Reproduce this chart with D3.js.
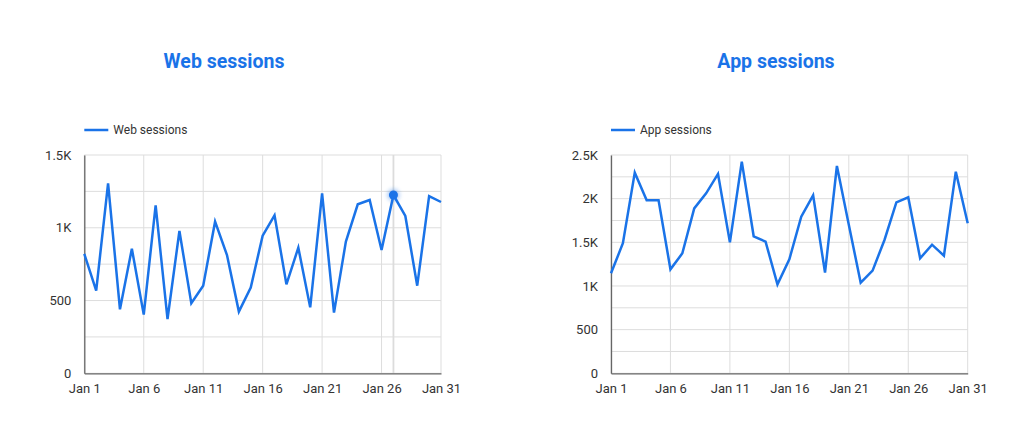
<!DOCTYPE html>
<html><head><meta charset="utf-8">
<script src="https://cdn.jsdelivr.net/npm/d3@7"></script>
<style>
body{margin:0;background:#fff;}
svg{display:block;font-family:Roboto, "Noto Sans", sans-serif;}
</style></head>
<body>
<svg id="c" width="1024" height="424"></svg>
<script>
const days = d3.range(1, 32);
const webSessions = [820,568,1305,440,856,403,1154,373,978,481,602,1042,813,424,589,946,1086,611,863,453,1237,417,905,1161,1191,847,1225,1081,602,1218,1177];
const appSessions = [1145,1489,2298,1981,1981,1191,1374,1889,2061,2283,1500,2424,1569,1508,1019,1305,1794,2038,1153,2374,1700,1038,1176,1527,1958,2015,1317,1473,1347,2309,1718];
const xTickDays = [1,6,11,16,21,26,31];
const webYTicks = [0,500,1000,1500];
const appYTicks = [0,500,1000,1500,2000,2500];
const webMinor = d3.range(0,1501,250);
const appMinor = d3.range(0,2501,250);
const highlightDay = 27;

const blue = "#1a73e8";
const svg = d3.select("#c");
const defs = svg.append("defs");
const f = defs.append("filter").attr("id","glow").attr("x","-100%").attr("y","-100%").attr("width","300%").attr("height","300%");
f.append("feGaussianBlur").attr("stdDeviation",2);

function fmt(v){ return v>=1000 ? (v/1000)+"K" : String(v); }

function chart(opt){
  const g = svg.append("g");
  const x = d3.scaleLinear().domain([1,31]).range([opt.x0, opt.x1]);
  const y = d3.scaleLinear().domain([0, opt.ymax]).range([373.3, 155]);
  g.append("text").attr("x", opt.titleX).attr("y", 68).attr("text-anchor","middle")
    .attr("font-size", 19.5).attr("font-weight", 700).attr("fill", blue).text(opt.title);
  g.append("line").attr("x1", opt.x0).attr("x2", opt.x0+24).attr("y1",130).attr("y2",130)
    .attr("stroke", blue).attr("stroke-width",2.5);
  g.append("text").attr("x", opt.x0+29).attr("y",134).attr("font-size",12).attr("fill","#333").text(opt.title);
  g.selectAll(".hg").data(opt.minor).join("line")
    .attr("x1", opt.x0).attr("x2", opt.x1).attr("y1", d=>y(d)).attr("y2", d=>y(d))
    .attr("stroke","#ddd").attr("stroke-width",1);
  g.selectAll(".vg").data(xTickDays).join("line")
    .attr("x1", d=>x(d)).attr("x2", d=>x(d)).attr("y1", y(opt.ymax)).attr("y2", y(0))
    .attr("stroke","#ddd").attr("stroke-width",1);
  if(opt.hover){
    g.append("line").attr("x1", x(highlightDay)).attr("x2", x(highlightDay)).attr("y1", y(opt.ymax)).attr("y2", y(0))
      .attr("stroke","#dcdcdc").attr("stroke-width",1.8);
  }
  const xa = g.append("g").attr("transform",`translate(0,${y(0)})`)
    .call(d3.axisBottom(x).tickValues(xTickDays).tickSize(0).tickPadding(10).tickFormat(d=>"Jan "+d));
  xa.select(".domain").attr("stroke","#666").attr("stroke-width",1.3);
  xa.selectAll("text").attr("font-size",13).attr("fill","#333").attr("font-family","Roboto, sans-serif");
  const ya = g.append("g").attr("transform",`translate(${opt.x0},0)`)
    .call(d3.axisLeft(y).tickValues(opt.yticks).tickSize(0).tickPadding(13).tickFormat(fmt));
  ya.select(".domain").attr("stroke","#666").attr("stroke-width",1.3);
  ya.selectAll("text").attr("font-size",13).attr("fill","#333").attr("font-family","Roboto, sans-serif");
  const line = d3.line().x((d,i)=>x(days[i])).y(d=>y(d));
  g.append("path").datum(opt.values).attr("d", line).attr("fill","none")
    .attr("stroke", blue).attr("stroke-width",2.5).attr("stroke-linejoin","miter");
  if(opt.hover){
    const v = opt.values[highlightDay-1];
    g.append("circle").attr("cx", x(highlightDay)).attr("cy", y(v)).attr("r",6)
      .attr("fill", blue).attr("opacity",0.4).attr("filter","url(#glow)");
    g.append("circle").attr("cx", x(highlightDay)).attr("cy", y(v)).attr("r",4.5).attr("fill", blue);
  }
}

chart({title:"Web sessions", titleX:224, x0:84.3, x1:441, ymax:1500, yticks:webYTicks, minor:webMinor, values:webSessions, hover:true});
chart({title:"App sessions", titleX:776, x0:611, x1:967.7, ymax:2500, yticks:appYTicks, minor:appMinor, values:appSessions, hover:false});
</script>
</body></html>
